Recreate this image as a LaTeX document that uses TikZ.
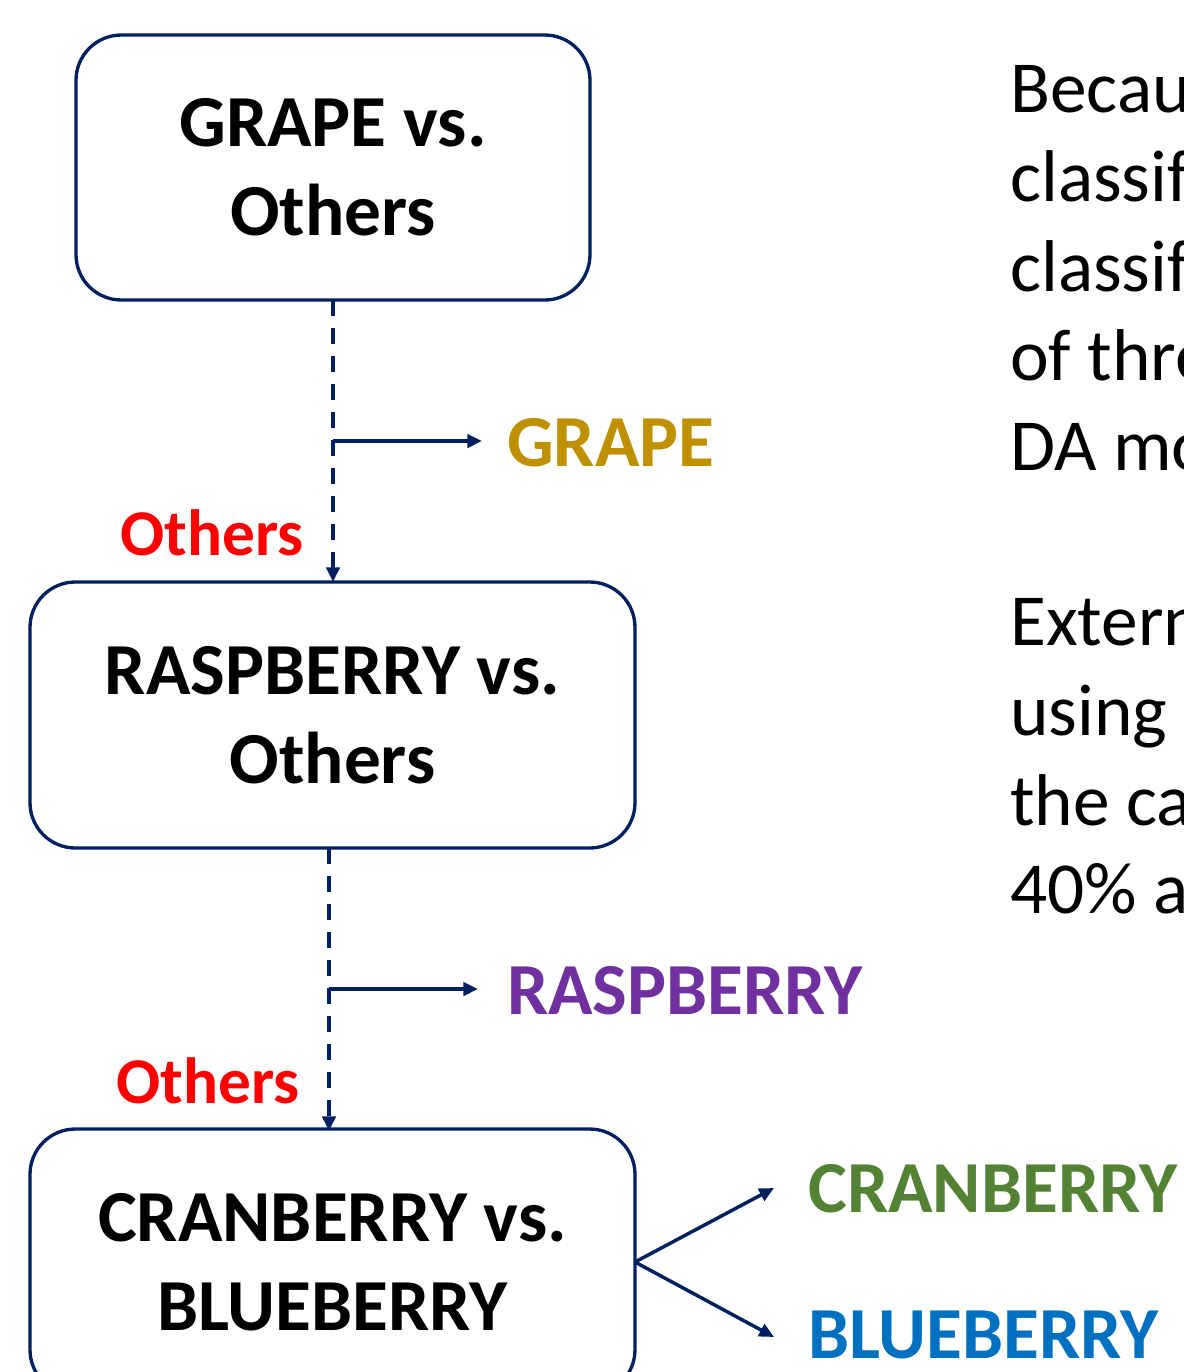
\documentclass[tikz,border=0pt]{standalone}
\usepackage{fontspec}
\setmainfont{Carlito}
\usetikzlibrary{arrows.meta}
\definecolor{navy}{HTML}{002060}
\definecolor{grapecol}{HTML}{BF9000}
\definecolor{raspcol}{HTML}{7030A0}
\definecolor{cranecol}{HTML}{548235}
\definecolor{bluecol}{HTML}{0070C0}
\definecolor{othcol}{HTML}{FF0000}
\tikzset{
  box/.style={draw=navy, line width=2.5pt, rounded corners=34pt, inner sep=0pt, outer sep=0pt,
    align=center, font=\fontsize{55}{67}\selectfont\bfseries},
  lbl/.style={anchor=base west, inner sep=0pt, font=\fontsize{55}{66}\selectfont\bfseries},
  oth/.style={anchor=base east, inner sep=0pt, text=othcol, font=\fontsize{49}{59}\selectfont\bfseries},
  para/.style={anchor=base west, inner sep=0pt, font=\fontsize{55}{67}\selectfont},
  tip/.style={-{Triangle[length=11pt,width=10pt]}},
  dashline/.style={draw=navy, line width=2.6pt, dash pattern=on 12pt off 9pt, tip},
  arr/.style={draw=navy, line width=2.6pt, tip}
}
\begin{document}
\begin{tikzpicture}[x=0.75pt,y=-0.75pt]
\fill[white] (0,0) rectangle (1184,1372);
\useasboundingbox (0,0) rectangle (1184,1372);
\clip (0,0) rectangle (1184,1372);

% boxes
\node[box, minimum width=385.5pt, minimum height=198.75pt] (b1) at (333,167.5) {GRAPE vs.\\Others};
\node[box, minimum width=453.75pt, minimum height=199.5pt] (b2) at (332.5,715) {RASPBERRY vs.\\Others};
\node[box, minimum width=453.75pt, minimum height=199.5pt] (b3) at (332.5,1262) {CRANBERRY vs.\\BLUEBERRY};

% labels
\node[lbl, text=grapecol] (gr) at (507,466) {GRAPE};
\node[lbl, text=raspcol] (ra) at (507,1014) {RASPBERRY};
\node[lbl, text=cranecol] (cr) at (808,1212) {CRANBERRY};
\node[lbl, text=bluecol] (bl) at (808,1358) {BLUEBERRY};
\node[oth] (o1) at (304,555) {Others};
\node[oth] (o2) at (300,1103) {Others};

% connector points
\coordinate (t1) at (333,300);
\coordinate (h1) at (333,582);
\coordinate (t2) at (329,848);
\coordinate (h2) at (329,1131);
\coordinate (d1) at (333,441);
\coordinate (d2) at (329,989);
\coordinate (ge) at (482,441);
\coordinate (re) at (478,989);
\coordinate (ce) at (774,1188);
\coordinate (be) at (774,1337);

% connectors
\draw[dashline] (t1) -- (h1);
\draw[arr] (d1) -- (ge);
\draw[dashline] (t2) -- (h2);
\draw[arr] (d2) -- (re);
\draw[arr] (b3.east) -- (ce);
\draw[arr] (b3.east) -- (be);

% right paragraph text
\node[para] (p1) at (1010,112) {Because};
\node[para] (p2) at (1010,201) {classifi};
\node[para] (p3) at (1010,291) {classifi};
\node[para] (p4) at (1010,380) {of three};
\node[para] (p5) at (1010,470) {DA model};
\node[para] (q1) at (1010,645) {External};
\node[para] (q2) at (1010,735) {using};
\node[para] (q3) at (1010,825) {the ca};
\node[para] (q4) at (1010,913) {40\% a};
\end{tikzpicture}
\end{document}
